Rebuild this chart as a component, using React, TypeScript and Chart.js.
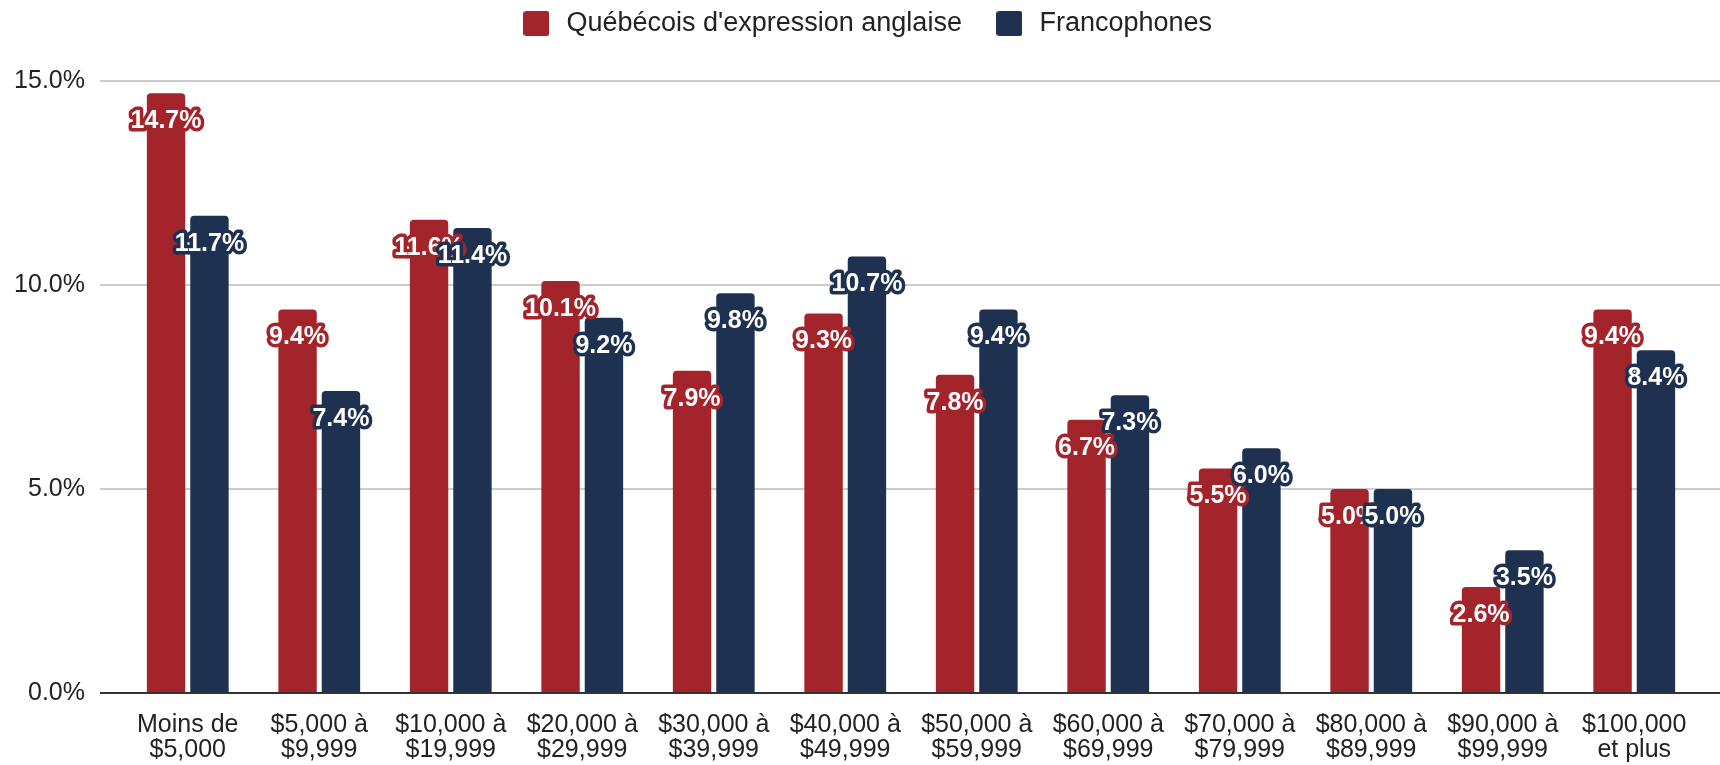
import React, { useEffect, useRef } from 'react';
import { Chart, registerables } from 'chart.js';

Chart.register(...registerables);

const categories: string[][] = [
  ['Moins de', '$5,000'],
  ['$5,000 à', '$9,999'],
  ['$10,000 à', '$19,999'],
  ['$20,000 à', '$29,999'],
  ['$30,000 à', '$39,999'],
  ['$40,000 à', '$49,999'],
  ['$50,000 à', '$59,999'],
  ['$60,000 à', '$69,999'],
  ['$70,000 à', '$79,999'],
  ['$80,000 à', '$89,999'],
  ['$90,000 à', '$99,999'],
  ['$100,000', 'et plus'],
];
const seriesNames = ["Québécois d'expression anglaise", 'Francophones'];
const anglophoneValues = [14.7, 9.4, 11.6, 10.1, 7.9, 9.3, 7.8, 6.7, 5.5, 5.0, 2.6, 9.4];
const francophoneValues = [11.7, 7.4, 11.4, 9.2, 9.8, 10.7, 9.4, 7.3, 6.0, 5.0, 3.5, 8.4];
const yMin = 0;
const yMax = 15;
const yStep = 5;
const seriesColors = ['#A3242A', '#1E3150'];

const FONT = "'Liberation Sans', Arial, sans-serif";

function makeMarker(color: string): HTMLCanvasElement {
  const c = document.createElement('canvas');
  c.width = 26;
  c.height = 25;
  const ctx = c.getContext('2d')!;
  ctx.fillStyle = color;
  ctx.beginPath();
  (ctx as any).roundRect(0, 0, 26, 25, 3);
  ctx.fill();
  return c;
}

const gridPlugin = {
  id: 'fullGrid',
  beforeDatasetsDraw(chart: any) {
    const y = chart.scales.y;
    const ctx = chart.ctx;
    const left = chart.chartArea.left - 22;
    const right = chart.width;
    ctx.save();
    ctx.strokeStyle = '#cccccc';
    ctx.lineWidth = 2;
    y.ticks.forEach((t: any) => {
      if (t.value === 0) return;
      const py = Math.round(y.getPixelForValue(t.value));
      ctx.beginPath();
      ctx.moveTo(left, py);
      ctx.lineTo(right, py);
      ctx.stroke();
    });
    ctx.restore();
  },
  afterDatasetsDraw(chart: any) {
    const y = chart.scales.y;
    const ctx = chart.ctx;
    const left = chart.chartArea.left - 22;
    const right = chart.width;
    ctx.save();
    ctx.strokeStyle = '#333333';
    ctx.lineWidth = 2;
    const py = Math.round(y.getPixelForValue(0));
    ctx.beginPath();
    ctx.moveTo(left, py);
    ctx.lineTo(right, py);
    ctx.stroke();
    ctx.restore();
  },
};

const labelPlugin = {
  id: 'barLabels',
  afterDatasetsDraw(chart: any) {
    const ctx = chart.ctx;
    ctx.save();
    ctx.font = `bold 25px ${FONT}`;
    ctx.textAlign = 'center';
    ctx.textBaseline = 'middle';
    ctx.lineJoin = 'round';
    chart.data.datasets.forEach((ds: any, di: number) => {
      const meta = chart.getDatasetMeta(di);
      meta.data.forEach((bar: any, i: number) => {
        const v = ds.data[i];
        const text = `${v.toFixed(1)}%`;
        const x = bar.x;
        const yy = bar.y + 28;
        ctx.strokeStyle = seriesColors[di];
        ctx.lineWidth = 7;
        ctx.strokeText(text, x, yy);
        ctx.fillStyle = '#ffffff';
        ctx.fillText(text, x, yy);
      });
    });
    ctx.restore();
  },
};

const legendSpacing = {
  id: 'legendSpacing',
  beforeInit(chart: any) {
    const legend = chart.legend;
    if (!legend) return;
    const orig = legend.fit;
    legend.fit = function () {
      orig.call(this);
      this.height += 34;
    };
  },
  afterLayout(chart: any) {
    const legend = chart.legend;
    if (!legend) return;
    legend.left += 9;
    legend.right += 9;
  },
};

export default function App() {
  const ref = useRef<HTMLCanvasElement | null>(null);

  useEffect(() => {
    if (!ref.current) return;
    const markers = seriesColors.map(makeMarker);
    const chart = new Chart(ref.current, {
      type: 'bar',
      data: {
        labels: categories,
        datasets: [
          {
            label: seriesNames[0],
            data: anglophoneValues,
            backgroundColor: seriesColors[0],
            borderWidth: 0,
            borderRadius: 4,
            categoryPercentage: 0.66,
            barPercentage: 0.885,
          },
          {
            label: seriesNames[1],
            data: francophoneValues,
            backgroundColor: seriesColors[1],
            borderWidth: 0,
            borderRadius: 4,
            categoryPercentage: 0.66,
            barPercentage: 0.885,
          },
        ],
      },
      options: {
        responsive: false,
        animation: false,
        layout: { padding: { top: -21, left: 14, right: 20, bottom: 0 } },
        plugins: {
          tooltip: { enabled: false },
          legend: {
            position: 'top',
            align: 'center',
            labels: {
              usePointStyle: true,
              pointStyleWidth: 33,
              boxHeight: 27,
              padding: 31,
              color: '#222222',
              font: { family: FONT, size: 27 },
              generateLabels: (ch: any) => {
                const items = (Chart.defaults.plugins.legend.labels as any).generateLabels(ch);
                return items.map((it: any, i: number) => ({ ...it, pointStyle: markers[i] }));
              },
            },
          },
        },
        scales: {
          x: {
            grid: { display: false, drawTicks: false },
            border: { display: false },
            ticks: {
              color: '#222222',
              font: { family: FONT, size: 25, lineHeight: 1.0 },
              padding: 20,
              maxRotation: 0,
              autoSkip: false,
            },
            afterFit: (s: any) => {
              s.height = 72;
              s.paddingLeft = 0;
              s.paddingRight = 0;
            },
          },
          y: {
            min: yMin,
            max: yMax,
            grid: { display: false, drawTicks: false },
            border: { display: false },
            ticks: {
              stepSize: yStep,
              color: '#222222',
              font: { family: FONT, size: 25 },
              padding: 37,
              callback: (v: any) => `${Number(v).toFixed(1)}%`,
            },
            afterFit: (s: any) => {
              s.width = 108;
            },
          },
        },
      },
      plugins: [legendSpacing, gridPlugin, labelPlugin],
    } as any);
    return () => chart.destroy();
  }, []);

  return (
    <div style={{ position: 'absolute', left: 0, top: 0, width: 1720, height: 765, background: '#fff' }}>
      <canvas ref={ref} width={1720} height={765} style={{ display: 'block' }} />
    </div>
  );
}
